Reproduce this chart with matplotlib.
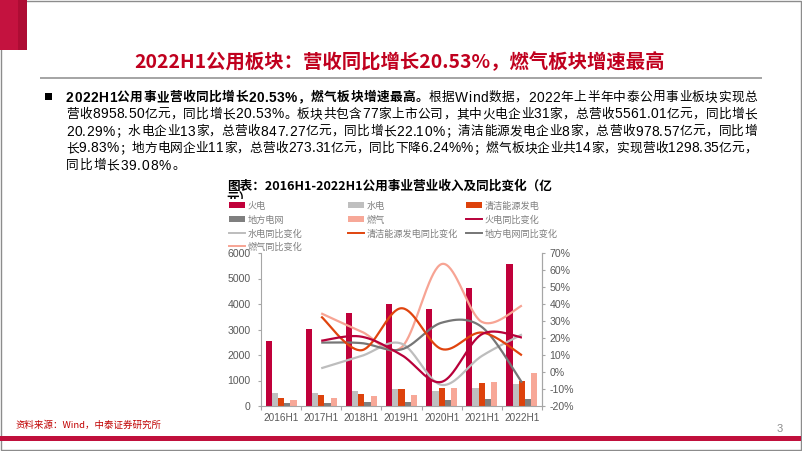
import matplotlib
matplotlib.use('Agg')
import matplotlib.pyplot as plt
import numpy as np
from matplotlib.patches import Rectangle
from matplotlib.lines import Line2D
from matplotlib.font_manager import FontProperties, findfont
from matplotlib.transforms import Bbox

W, H = 802, 451
DPI = 100
plt.rcParams['font.family'] = ['Noto Sans CJK SC', 'DejaVu Sans']

# ---------------- data ----------------
categories = ['2016H1', '2017H1', '2018H1', '2019H1', '2020H1', '2021H1', '2022H1']
thermal = [2550, 3020, 3640, 4000, 3790, 4623, 5561.01]
hydro = [520, 520, 571, 675, 600, 694, 847.27]
clean = [312, 415, 468, 650, 715, 891, 978.57]
grid = [104, 130, 143, 170, 235, 291, 273.31]
gas = [234, 300, 377, 430, 705, 933, 1298.35]

yoy_categories = categories[1:]
thermal_yoy = [18.4, 20.8, 10.0, -5.8, 22.2, 20.29]
hydro_yoy = [2.2, 9.4, 16.7, -7.6, 9.4, 22.10]
clean_yoy = [32.6, 12.8, 37.5, 13.5, 23.2, 9.83]
grid_yoy = [17.3, 17.0, 13.3, 29.0, 26.5, -6.24]
gas_yoy = [34.5, 23.8, 14.5, 63.5, 29.5, 39.08]

left_ticks = [0, 1000, 2000, 3000, 4000, 5000, 6000]
right_ticks = [-20, -10, 0, 10, 20, 30, 40, 50, 60, 70]

bar_names = ['火电', '水电', '清洁能源发电', '地方电网', '燃气']
line_names = ['火电同比变化', '水电同比变化', '清洁能源发电同比变化', '地方电网同比变化', '燃气同比变化']
bar_colors = ['#C0003A', '#BFBFBF', '#DD420C', '#7F7F7F', '#F7A898']
line_colors = ['#B8003A', '#BDBDBD', '#E0440E', '#767676', '#F7A494']

title = '2022H1公用板块：营收同比增长20.53%，燃气板块增速最高'
chart_title = '图表：2016H1-2022H1公用事业营业收入及同比变化（亿'
chart_title2 = '元）'
para_lines = [
    [('2022H1公用事业营收同比增长20.53%，燃气板块增速最高。', 'bold'),
     ('根据Wind数据，2022年上半年中泰公用事业板块实现总', 'normal')],
    [('营收8958.50亿元，同比增长20.53%。板块共包含77家上市公司，其中火电企业31家，总营收5561.01亿元，同比增长', 'normal')],
    [('20.29%；水电企业13家，总营收847.27亿元，同比增长22.10%；清洁能源发电企业8家，总营收978.57亿元，同比增', 'normal')],
    [('长9.83%；地方电网企业11家，总营收273.31亿元，同比下降6.24%%；燃气板块企业共14家，实现营收1298.35亿元，', 'normal')],
    [('同比增长39.08%。', 'normal')],
]
source = '资料来源：Wind，中泰证券研究所'
page = '3'

# ---------------- helpers ----------------
fig = plt.figure(figsize=(W / DPI, H / DPI), dpi=DPI)
renderer = fig.canvas.get_renderer()

narrow = 'Liberation Sans'
try:
    findfont(FontProperties(family='Liberation Sans Narrow'), fallback_to_default=False)
    narrow = 'Liberation Sans Narrow'
except Exception:
    pass


def fx(x):
    return x / W


def fy(y):
    return 1 - y / H


def rect(x, y, w, h, color, z=1, **kw):
    fig.add_artist(Rectangle((fx(x), fy(y + h)), w / W, h / H, transform=fig.transFigure,
                             facecolor=color, edgecolor='none', zorder=z, **kw))


def fam_for(ch):
    return [narrow, 'DejaVu Sans'] if ord(ch) < 128 else ['Noto Sans CJK SC', 'DejaVu Sans']


def text_width(s, size, weight='normal', family=None):
    fam = family or ['Noto Sans CJK SC', 'DejaVu Sans']
    prop = FontProperties(family=fam, size=size, weight=weight)
    w, h, d = renderer.get_text_width_height_descent(s, prop, ismath=False)
    return w


def fit_size(s, width, weight='normal'):
    return 10 * width / text_width(s, 10, weight)


# ---------------- slide decoration ----------------
fig.add_artist(Rectangle((fx(0.5), fy(449.5)), 800 / W, 449 / H, transform=fig.transFigure,
                         facecolor='none', edgecolor='#8C8C8C', lw=1.0, zorder=0))
rect(0, 0, 27, 50, '#C4123F', z=2)
rect(18, 0, 9, 50, '#AE0C34', z=2)
rect(40, 76.5, 722, 2.2, '#A6A6A6')
rect(0, 436, 801, 5, '#C0103C')

ts = fit_size(title, 530, 'bold')
fig.text(fx(400), fy(60), title, ha='center', va='center_baseline', fontsize=ts,
         fontweight='bold', color='#C0001E')

# bullet
rect(45, 92.5, 7, 7, '#000000')

# justified paragraph
x0, x1 = 66, 757


def char_w(ch, size, wt):
    return text_width(ch, size * (1.08 if ord(ch) < 128 else 1.0), wt, fam_for(ch))


sizes = []
for line in para_lines[:4]:
    w = sum(char_w(ch, 10, wt) for s, wt in line for ch in s)
    sizes.append(10 * (x1 - x0) / w)
psize = min(min(sizes) * 0.985, 9.4)
line_y = [96, 113, 130, 147, 164]
for li, line in enumerate(para_lines):
    chars = []
    for s, wt in line:
        for ch in s:
            chars.append((ch, wt, char_w(ch, psize, wt)))
    natural = sum(c[2] for c in chars)
    if li < 4:
        gap = ((x1 - x0) - natural) / (len(chars) - 1)
    else:
        gap = 0.9
    x = x0
    for ch, wt, cw in chars:
        fs = psize * (1.08 if ord(ch) < 128 else 1.0)
        fig.text(fx(x), fy(line_y[li]), ch, ha='left', va='center_baseline', fontsize=fs,
                 fontweight=wt, color='#000000', family=fam_for(ch))
        x += cw + gap

# chart title
cs = fit_size(chart_title, 326, 'bold')
fig.text(fx(227), fy(185), chart_title, ha='left', va='center_baseline', fontsize=cs,
         fontweight='bold', color='#000000')
t2 = fig.text(fx(227), fy(197.5), chart_title2, ha='left', va='center_baseline', fontsize=cs,
              fontweight='bold', color='#000000', zorder=1)
t2.set_clip_box(Bbox.from_extents(0, H - 198.5, W, H - 185))
t2.set_clip_on(True)

# footer
fsz = fit_size(source, 153)
fig.text(fx(15), fy(424), source, ha='left', va='center_baseline', fontsize=fsz * 0.95,
         color='#C00000', style='italic')
fig.text(fx(780), fy(428), page, ha='center', va='center_baseline', fontsize=8,
         color='#8C8C8C', family='Liberation Sans')

# ---------------- chart ----------------
ax = fig.add_axes([fx(261), (H - 406) / H, 281 / W, 153 / H])
ax.set_facecolor('none')
xs = np.arange(len(categories))
bw = 0.155
bar_series = [thermal, hydro, clean, grid, gas]
for k, (vals, c) in enumerate(zip(bar_series, bar_colors)):
    ax.bar(xs + (k - 2) * bw, vals, width=bw, color=c, zorder=2, linewidth=0)

ax.set_xlim(-0.5, len(categories) - 0.5)
ax.set_ylim(0, 6000)
ax.set_yticks(left_ticks)
ax.set_xticks(xs)
ax.set_xticklabels(categories)
ax.set_xticks(np.arange(-0.5, len(categories)), minor=True)
gray = '#A6A6A6'
for sp in ['left', 'bottom', 'right']:
    ax.spines[sp].set_color(gray)
    ax.spines[sp].set_linewidth(0.8)
ax.spines['top'].set_visible(False)
ax.tick_params(axis='y', direction='out', length=2.5, width=0.8, color=gray, labelsize=7.6,
               labelcolor='#595959', pad=5, labelfontfamily='Liberation Sans')
ax.tick_params(axis='x', which='major', length=0, labelsize=7.2, labelcolor='#595959', pad=5,
               labelfontfamily='Liberation Sans')
ax.tick_params(axis='x', which='minor', direction='out', length=3, width=0.8, color=gray)

ax2 = ax.twinx()
ax2.set_ylim(-20, 70)
ax2.set_yticks(right_ticks)
ax2.set_yticklabels([f'{t}%' for t in right_ticks])
for sp in ['left', 'bottom', 'top']:
    ax2.spines[sp].set_visible(False)
ax2.spines['right'].set_color(gray)
ax2.spines['right'].set_linewidth(0.8)
ax2.tick_params(axis='y', direction='out', length=2.5, width=0.8, color=gray, labelsize=7.6,
                labelcolor='#595959', pad=3, labelfontfamily='Liberation Sans')


def smooth(xv, yv, n=40):
    P = np.column_stack([np.asarray(xv, float), np.asarray(yv, float)])
    N = len(P)
    out = [P[0]]
    t = np.linspace(0, 1, n)[1:, None]
    for i in range(N - 1):
        p0 = P[i - 1] if i > 0 else P[i]
        p1, p2 = P[i], P[i + 1]
        p3 = P[i + 2] if i + 2 < N else P[i + 1]
        c1 = p1 + (p2 - p0) / 6
        c2 = p2 - (p3 - p1) / 6
        seg = (1 - t) ** 3 * p1 + 3 * (1 - t) ** 2 * t * c1 + 3 * (1 - t) * t ** 2 * c2 + t ** 3 * p2
        out.extend(seg)
    return np.array(out)


yoy_x = np.arange(1, len(categories))
line_series = [thermal_yoy, hydro_yoy, clean_yoy, grid_yoy, gas_yoy]
draw_order = [4, 1, 3, 2, 0]
for k in draw_order:
    pts = smooth(yoy_x, line_series[k])
    ax2.plot(pts[:, 0], pts[:, 1], color=line_colors[k], lw=1.6, solid_capstyle='butt', zorder=3)

# ---------------- legend ----------------
entries = [('bar', 0), ('bar', 1), ('bar', 2),
           ('bar', 3), ('bar', 4), ('line', 0),
           ('line', 1), ('line', 2), ('line', 3),
           ('line', 4)]
col_x = [229, 347.5, 466]
row_y = [205, 219, 233, 246.5]
for i, (kind, k) in enumerate(entries):
    r, c = divmod(i, 3)
    px, py = col_x[c], row_y[r]
    if kind == 'bar':
        rect(px, py - 2.6, 16, 5.2, bar_colors[k], z=3)
        name = bar_names[k]
    else:
        fig.add_artist(Line2D([fx(px), fx(px + 16)], [fy(py), fy(py)], transform=fig.transFigure,
                              color=line_colors[k], lw=1.4, zorder=3))
        name = line_names[k]
    fig.text(fx(px + 19), fy(py), name, ha='left', va='center_baseline', fontsize=6.6,
             color='#7F7F7F', zorder=3)

fig.savefig('out.png', dpi=DPI)
